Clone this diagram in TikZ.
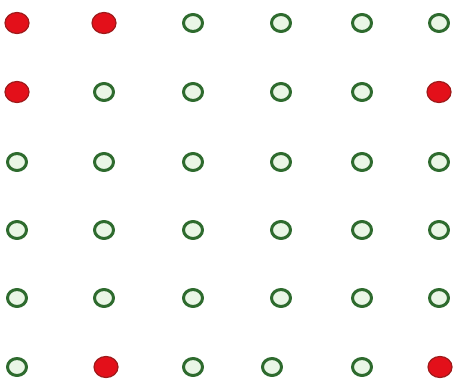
\documentclass[tikz,border=0pt]{standalone}
\usepackage{xcolor}
\usetikzlibrary{shapes.geometric}

\begin{document}
\begin{tikzpicture}[x=1pt,y=-1pt,line join=round,
  dotbase/.style={ellipse,inner sep=0pt,minimum width=24pt,minimum height=21pt},
  hit/.style={dotbase,fill=dotRed,draw=dotRedEdge,line width=1.2pt},
  free/.style={dotbase,fill=dotGreenFill,draw=dotGreen,line width=3pt,minimum width=19pt,minimum height=17pt}]
\definecolor{dotRed}{HTML}{E3101A}
\definecolor{dotRedEdge}{HTML}{9E1A1A}
\definecolor{dotGreen}{HTML}{2E6B2E}
\definecolor{dotGreenFill}{HTML}{EAF6E6}
\useasboundingbox[fill=white] (0,0) rectangle (460,385);
% row 1
\node[hit]  (r1c1) at (17,23) {};
\node[hit]  (r1c2) at (104,23) {};
\node[free] (r1c3) at (193,23) {};
\node[free] (r1c4) at (281,23) {};
\node[free] (r1c5) at (362,23) {};
\node[free] (r1c6) at (439,23) {};
% row 2
\node[hit]  (r2c1) at (17,92) {};
\node[free] (r2c2) at (104,92) {};
\node[free] (r2c3) at (193,92) {};
\node[free] (r2c4) at (281,92) {};
\node[free] (r2c5) at (362,92) {};
\node[hit]  (r2c6) at (439,92) {};
% row 3
\node[free] (r3c1) at (17,162) {};
\node[free] (r3c2) at (104,162) {};
\node[free] (r3c3) at (193,162) {};
\node[free] (r3c4) at (281,162) {};
\node[free] (r3c5) at (362,162) {};
\node[free] (r3c6) at (439,162) {};
% row 4
\node[free] (r4c1) at (17,230) {};
\node[free] (r4c2) at (104,230) {};
\node[free] (r4c3) at (193,230) {};
\node[free] (r4c4) at (281,230) {};
\node[free] (r4c5) at (362,230) {};
\node[free] (r4c6) at (439,230) {};
% row 5
\node[free] (r5c1) at (17,298) {};
\node[free] (r5c2) at (104,298) {};
\node[free] (r5c3) at (193,298) {};
\node[free] (r5c4) at (281,298) {};
\node[free] (r5c5) at (362,298) {};
\node[free] (r5c6) at (439,298) {};
% row 6
\node[free] (r6c1) at (17,367) {};
\node[hit]  (r6c2) at (106,367) {};
\node[free] (r6c3) at (193,367) {};
\node[free] (r6c4) at (272,367) {};
\node[free] (r6c5) at (362,367) {};
\node[hit]  (r6c6) at (440,367) {};
\end{tikzpicture}
\end{document}
